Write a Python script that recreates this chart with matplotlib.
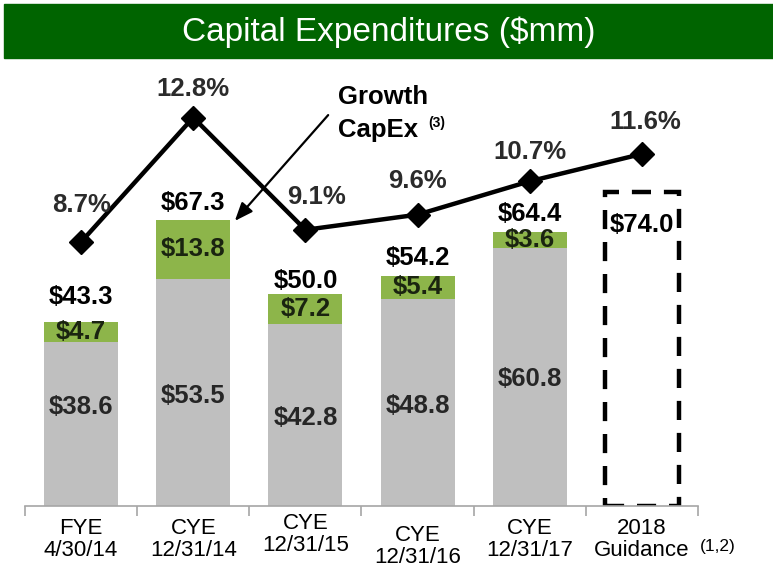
import matplotlib
matplotlib.use("Agg")
import matplotlib.pyplot as plt
import numpy as np
from matplotlib import font_manager, transforms
from matplotlib.patches import Rectangle, FancyArrowPatch

# ---------------- data ----------------
categories = ["FYE\n4/30/14", "CYE\n12/31/14", "CYE\n12/31/15",
              "CYE\n12/31/16", "CYE\n12/31/17", "2018\nGuidance"]
maintenance = [38.6, 53.5, 42.8, 48.8, 60.8]
growth = [4.7, 13.8, 7.2, 5.4, 3.6]
totals = [43.3, 67.3, 50.0, 54.2, 64.4]
guidance_total = 74.0
pct_of_revenue = [8.7, 12.8, 9.1, 9.6, 10.7, 11.6]

# ---------------- style ----------------
plt.rcParams["font.family"] = ["Liberation Sans", "DejaVu Sans"]
names = {f.name for f in font_manager.fontManager.ttflist}
NARROW = "Liberation Sans Narrow" in names
tick_family = ["Liberation Sans Narrow", "Liberation Sans", "DejaVu Sans"] if NARROW else ["Liberation Sans", "DejaVu Sans"]
tick_size = 18 if NARROW else 16

GRAY = "#BFBFBF"
GREEN = "#8DB54A"
BANNER = "#006400"
AXIS_GRAY = "#A6A6A6"

W, H = 773, 570
fig = plt.figure(figsize=(W / 100, H / 100), dpi=100)


def fx(x):
    return x / W


def fy(y):
    return 1 - y / H


AX_L, AX_R, AX_T, AX_B = 25, 698, 70, 506
PX_PER_USD = 4.25
PX_PER_PCT = 30.35

ax = fig.add_axes([fx(AX_L), fy(AX_B), (AX_R - AX_L) / W, (AX_B - AX_T) / H])
ax.set_xlim(-0.5, 5.5)
ax.set_ylim(0, (AX_B - AX_T) / PX_PER_USD)
ax2 = ax.twinx()
ax2.set_ylim(0, (AX_B - AX_T) / PX_PER_PCT)

x = np.arange(len(categories))
bw = 0.66

ax.bar(x[:5], maintenance, width=bw, color=GRAY, zorder=2)
ax.bar(x[:5], growth, width=bw, bottom=maintenance, color=GREEN, zorder=2)
ax.bar(x[5], guidance_total, width=bw, fill=False, edgecolor="black",
       linewidth=3.2, linestyle=(0, (4.3, 2.9)), zorder=2)

ax2.plot(x, pct_of_revenue, color="black", lw=3.2, marker="D", ms=12,
         zorder=5, solid_joinstyle="miter")

# spines / axes
for a in (ax, ax2):
    for s in ("top", "left", "right"):
        a.spines[s].set_visible(False)
ax2.spines["bottom"].set_visible(False)
ax.spines["bottom"].set_color(AXIS_GRAY)
ax.spines["bottom"].set_linewidth(1.2)
ax.set_yticks([])
ax2.set_yticks([])

ax.set_xticks(x, categories)
ax.set_xticks(np.arange(-0.5, 6.0, 1.0), minor=True)
ax.tick_params(axis="x", which="major", length=0, pad=8.5)
ax.tick_params(axis="x", which="minor", length=7, width=1.2, color=AXIS_GRAY)
label_dy_px = [0, 0, -5, 7, 0, 0]
for lab, dy in zip(ax.get_xticklabels(), label_dy_px):
    lab.set_fontfamily(tick_family)
    lab.set_fontsize(tick_size)
    lab.set_linespacing(1.1)
    lab.set_transform(lab.get_transform() +
                      transforms.ScaledTranslation(0, -dy / 100, fig.dpi_scale_trans))

fig.text(fx(718), fy(547), "(1,2)", ha="center", va="center",
         fontsize=13 if NARROW else 12.5, family=tick_family)

PT = 0.72  # px -> points
# percentage labels
pct_dx = [0, 0, 11, 0, 0, 3]
pct_dy = [37, 29, 33, 34, 29, 32]
for i, p in enumerate(pct_of_revenue):
    ax2.annotate(f"{p}%", xy=(i, p), xytext=(pct_dx[i] * PT, pct_dy[i] * PT),
                 textcoords="offset points", ha="center", va="center",
                 fontsize=18.5, fontweight="bold", color="#2B2B2B", zorder=6)

# totals
tot_dy = [25, 17, 13, 18, 18]
for i, t in enumerate(totals):
    ax.annotate(f"${t:.1f}", xy=(i, t), xytext=(0, tot_dy[i] * PT),
                textcoords="offset points", ha="center", va="center",
                fontsize=18.5, fontweight="bold", color="black", zorder=4)

# segment labels
gray_dy = [17, -4, -3, -4, -2]
for i, (m, g) in enumerate(zip(maintenance, growth)):
    ax.annotate(f"${m:.1f}", xy=(i, m / 2), xytext=(0, gray_dy[i] * PT),
                textcoords="offset points", ha="center", va="center",
                fontsize=18.5, fontweight="bold", color="#262626", zorder=4)
    ax.annotate(f"${g:.1f}", xy=(i, m + g / 2), xytext=(0, 0),
                textcoords="offset points", ha="center", va="center",
                fontsize=18.5, fontweight="bold", color="#1A2410", zorder=4)

ax.annotate(f"${guidance_total:.1f}", xy=(5, guidance_total), xytext=(0, -33 * PT),
            textcoords="offset points", ha="center", va="center",
            fontsize=18.5, fontweight="bold", color="black", zorder=4)

# Growth CapEx callout
fig.text(fx(338), fy(97), "Growth", ha="left", va="center",
         fontsize=18.5, fontweight="bold")
fig.text(fx(338), fy(130), "CapEx", ha="left", va="center",
         fontsize=18.5, fontweight="bold")
fig.text(fx(428), fy(123), "(3)", ha="left", va="center",
         fontsize=10, fontweight="bold")
fig.add_artist(FancyArrowPatch(
    (fx(330), fy(113)), (fx(233), fy(223)), transform=fig.transFigure,
    arrowstyle="-|>,head_length=0.55,head_width=0.22", mutation_scale=20,
    lw=1.6, color="black", zorder=10))

# banner
fig.add_artist(Rectangle((fx(4), fy(58)), 1 - fx(4), 54 / H,
                         transform=fig.transFigure, color=BANNER, zorder=0))
fig.text(fx(389), fy(32), "Capital Expenditures ($mm)", ha="center", va="center",
         fontsize=24, color="white", zorder=1)

fig.savefig("out.png", dpi=100)
